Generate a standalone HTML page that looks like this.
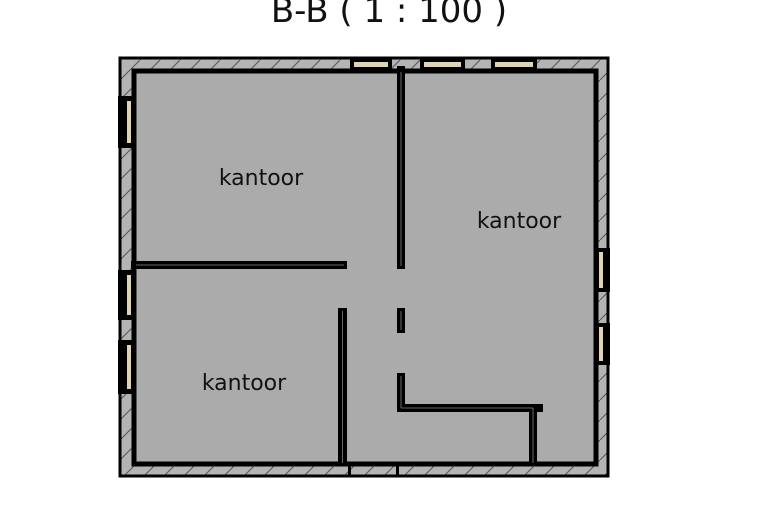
<!DOCTYPE html>
<html><head><style>
html,body{margin:0;padding:0;background:#fff;}
svg{display:block}
text{font-family:"DejaVu Sans","Liberation Sans",sans-serif;fill:#111}
</style></head><body>
<svg width="780" height="520" viewBox="0 0 780 520" xmlns="http://www.w3.org/2000/svg">
<defs>
<pattern id="h" width="20" height="20" patternUnits="userSpaceOnUse">
<rect width="20" height="20" fill="#b4b4b4"/>
<line x1="0" y1="20" x2="20" y2="0" stroke="#555" stroke-width="1"/>
</pattern>
</defs>
<text x="389" y="22" font-size="34" text-anchor="middle">B-B ( 1 : 100 )</text>
<rect x="120" y="58" width="488" height="418" fill="url(#h)" stroke="#000" stroke-width="3"/>
<rect x="134" y="71" width="462" height="393" fill="#ababab" stroke="#000" stroke-width="5"/>
<g fill="#000">
<rect x="350" y="57" width="42" height="13"/><rect x="420" y="57" width="45" height="13"/><rect x="491" y="57" width="46" height="13"/>
<rect x="118" y="96" width="15" height="52"/><rect x="118" y="270" width="15" height="50"/><rect x="118" y="340" width="15" height="54"/>
<rect x="595" y="248" width="15" height="44"/><rect x="595" y="323" width="15" height="42"/>
</g>
<g fill="#e0d4b4">
<rect x="354" y="62" width="34" height="5"/><rect x="424" y="62" width="37" height="5"/><rect x="495" y="62" width="38" height="5"/>
<rect x="127" y="101" width="4" height="42"/><rect x="127" y="275" width="4" height="40"/><rect x="127" y="345" width="4" height="44"/>
<rect x="599" y="252" width="4" height="36"/><rect x="599" y="327" width="4" height="34"/>
</g>
<g fill="#000">
<rect x="397" y="66" width="8" height="203"/>
<rect x="397" y="308" width="8" height="25"/>
<rect x="397" y="373" width="8" height="39"/>
<rect x="397" y="404" width="146" height="8"/>
<rect x="529" y="404" width="8" height="62"/>
<rect x="131" y="261" width="216" height="8"/>
<rect x="338" y="308" width="9" height="158"/>
<rect x="348" y="464" width="3" height="13"/><rect x="396" y="464" width="3" height="13"/>
</g>
<g stroke="#888" stroke-width="0.8">
<line x1="401" y1="72" x2="401" y2="266"/><line x1="401" y1="311" x2="401" y2="330"/>
<line x1="401" y1="376" x2="401" y2="408"/><line x1="401" y1="408" x2="533" y2="408"/>
<line x1="533" y1="408" x2="533" y2="463"/><line x1="136" y1="265" x2="344" y2="265"/>
<line x1="342.5" y1="311" x2="342.5" y2="463"/>
</g>
<text x="261" y="185" font-size="22" text-anchor="middle">kantoor</text>
<text x="519" y="228" font-size="22" text-anchor="middle">kantoor</text>
<text x="244" y="390" font-size="22" text-anchor="middle">kantoor</text>
</svg>
</body></html>
